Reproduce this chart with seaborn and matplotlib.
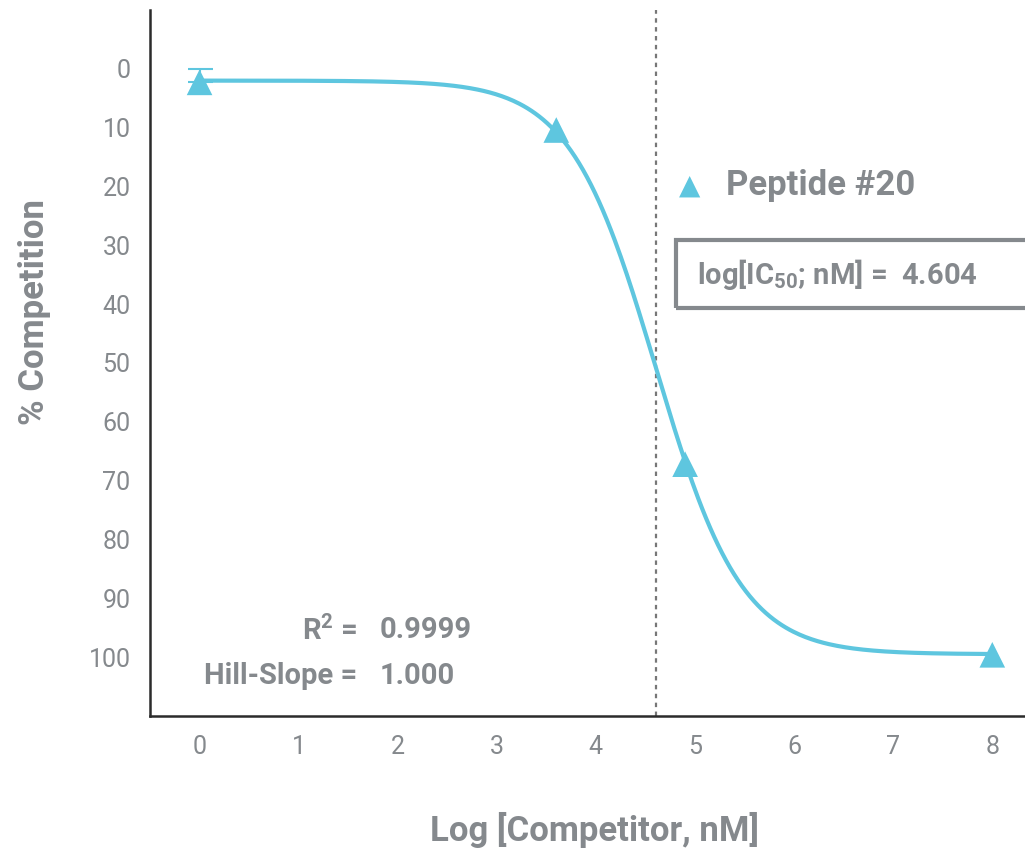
import numpy as np
import pandas as pd
import matplotlib.pyplot as plt
import matplotlib.patches as patches
import seaborn as sns

# --- data ---
log_conc = [0.0, 3.6, 4.9, 8.0]
competition = [2.3, 10.4, 67.2, 99.6]
err_low = [2.3, 0, 0, 0]  # only the first point shows an error cap

# fit parameters (4PL, shown on the chart)
fit_bottom = 2.0
fit_top = 99.5
log_ic50 = 4.604
hill_slope = 1.000
r_squared = 0.9999

x_ticks = [0, 1, 2, 3, 4, 5, 6, 7, 8]
y_ticks = [0, 10, 20, 30, 40, 50, 60, 70, 80, 90, 100]

CYAN = "#5ec6df"
GRAY = "#85898d"
DARK = "#2b2b2b"

sns.set_style("white")
plt.rcParams['font.family'] = ['Roboto', 'DejaVu Sans']
plt.rcParams['mathtext.fontset'] = 'custom'
plt.rcParams['mathtext.rm'] = 'Roboto:bold'
plt.rcParams['mathtext.default'] = 'rm'

fig = plt.figure(figsize=(10.25, 8.51), dpi=100)
ax = fig.add_axes([150 / 1025, 1 - 716 / 851, 875 / 1025, 706 / 851])

# fitted curve
xs = np.linspace(0, 8, 400)
ys = fit_bottom + (fit_top - fit_bottom) / (1 + 10 ** ((log_ic50 - xs) * hill_slope))
curve = pd.DataFrame({'x': xs, 'y': ys})
sns.lineplot(data=curve, x='x', y='y', ax=ax, color=CYAN, linewidth=3, zorder=2)

# data points
pts = pd.DataFrame({'x': log_conc, 'y': competition})
ax.errorbar(log_conc[:1], competition[:1], yerr=[err_low[:1], [0]], fmt='none',
            ecolor=CYAN, elinewidth=1.5, capsize=9, capthick=1.5, zorder=3)
sns.scatterplot(data=pts, x='x', y='y', ax=ax, marker='^', s=340, color=CYAN,
                edgecolor='none', zorder=4)

# IC50 line
ax.axvline(log_ic50, color='#777777', linestyle=(0, (2, 2)), linewidth=1.6, zorder=1)

ax.set_xlim(-0.5, 8.33)
ax.set_ylim(110, -10)
ax.set_xticks(x_ticks)
ax.set_yticks(y_ticks)
ax.tick_params(axis='both', direction='out', length=6, width=1.5, color=DARK,
               labelsize=18, labelcolor=GRAY, pad=8)
for s in ['top', 'right']:
    ax.spines[s].set_visible(False)
for s in ['left', 'bottom']:
    ax.spines[s].set_color(DARK)
    ax.spines[s].set_linewidth(1.8)

ax.set_xlabel('')
ax.set_ylabel('')
fig.text(595 / 1025, 1 - 830 / 851, 'Log [Competitor, nM]', ha='center', va='center',
         fontsize=25, fontweight='bold', color=GRAY)
fig.text(35 / 1025, 1 - 312 / 851, '% Competition', ha='center', va='center',
         rotation=90, fontsize=25, fontweight='bold', color=GRAY)

# legend
fig.text(690 / 1025, 1 - 186 / 851, '\u25B2', ha='center', va='center',
         fontsize=20, color=CYAN, family=['DejaVu Sans'])
fig.text(726 / 1025, 1 - 186 / 851, 'Peptide #20', ha='left', va='center',
         fontsize=25, fontweight='bold', color=GRAY)

# IC50 box
box = patches.Rectangle((676 / 1025, 1 - 308 / 851), 0.4, 68 / 851,
                        transform=fig.transFigure, fill=False, edgecolor=GRAY,
                        linewidth=3, clip_on=False)
fig.patches.append(box)
fig.text(697 / 1025, 1 - 274 / 851, 'log[IC$_{50}$; nM] =  %.3f' % log_ic50,
         ha='left', va='center', fontsize=21, fontweight='bold', color=GRAY)

# fit stats
fig.text(357 / 1025, 1 - 630 / 851, 'R$^2$ =', ha='right', va='center',
         fontsize=21, fontweight='bold', color=GRAY)
fig.text(380 / 1025, 1 - 630 / 851, '%.4f' % r_squared, ha='left', va='center',
         fontsize=21, fontweight='bold', color=GRAY)
fig.text(357 / 1025, 1 - 676 / 851, 'Hill-Slope =', ha='right', va='center',
         fontsize=21, fontweight='bold', color=GRAY)
fig.text(380 / 1025, 1 - 676 / 851, '%.3f' % hill_slope, ha='left', va='center',
         fontsize=21, fontweight='bold', color=GRAY)

fig.savefig('out.png', dpi=100)
